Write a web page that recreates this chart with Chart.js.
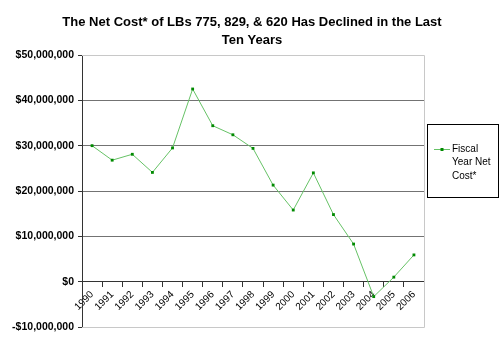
<!DOCTYPE html>
<html>
<head>
<meta charset="utf-8">
<script src="https://cdn.jsdelivr.net/npm/chart.js@4.4.1/dist/chart.umd.min.js"></script>
<style>
  html, body { margin: 0; padding: 0; background: #fff; }
  #wrap { width: 504px; height: 345px; }
</style>
</head>
<body>
<div id="wrap"><canvas id="costChart" width="504" height="345"></canvas></div>
<script>
// Data
const years = ['1990', '1991', '1992', '1993', '1994', '1995', '1996', '1997', '1998',
               '1999', '2000', '2001', '2002', '2003', '2004', '2005', '2006'];
const netCost = [30.0, 26.8, 28.1, 24.1, 29.5, 42.5, 34.4, 32.4, 29.4,
                 21.3, 15.8, 24.0, 14.8, 8.3, -3.3, 1.0, 5.9].map(v => v * 1e6);
const seriesLabel = 'Fiscal Year Net Cost*';
const legendLines = ['Fiscal', 'Year Net', 'Cost*'];
const titleLines = ['The Net Cost* of LBs 775, 829, & 620 Has Declined in the Last', 'Ten Years'];

const FONT = 'Arial, "Liberation Sans", sans-serif';

function money(v) {
    const s = '$' + Math.abs(v).toLocaleString('en-US');
    return v < 0 ? '-' + s : s;
}

// plot border (top, right, bottom) and the boxed legend on the right
const frameAndLegend = {
    id: 'frameAndLegend',
    beforeDatasetsDraw(chart) {
        const {ctx, chartArea: a} = chart;
        ctx.save();
        ctx.strokeStyle = '#c8c8c8';
        ctx.lineWidth = 1;
        ctx.beginPath();
        ctx.moveTo(a.left, a.top + 0.5);
        ctx.lineTo(a.right + 0.5, a.top + 0.5);
        ctx.lineTo(a.right + 0.5, a.bottom + 0.5);
        ctx.lineTo(a.left, a.bottom + 0.5);
        ctx.stroke();
        ctx.restore();
    },
    afterDraw(chart) {
        const {ctx} = chart;
        const ds = chart.data.datasets[0];
        ctx.save();
        ctx.strokeStyle = '#000';
        ctx.lineWidth = 1;
        ctx.strokeRect(427.5, 124.5, 71, 73);
        ctx.strokeStyle = ds.borderColor;
        ctx.beginPath();
        ctx.moveTo(434, 149.5);
        ctx.lineTo(450, 149.5);
        ctx.stroke();
        ctx.fillStyle = ds.pointBackgroundColor;
        ctx.fillRect(440.5, 148, 3, 3);
        ctx.fillStyle = '#000';
        ctx.font = '10px ' + FONT;
        ctx.textBaseline = 'middle';
        legendLines.forEach((t, i) => ctx.fillText(t, 452, 149 + i * 13.5));
        ctx.restore();
    }
};

new Chart(document.getElementById('costChart'), {
    type: 'line',
    data: {
        labels: years,
        datasets: [{
            label: seriesLabel,
            data: netCost,
            borderColor: '#66c266',
            borderWidth: 1,
            tension: 0,
            pointStyle: 'rect',
            pointRadius: 2,
            pointBackgroundColor: '#008a00',
            pointBorderColor: '#008a00',
            pointBorderWidth: 0
        }]
    },
    options: {
        responsive: false,
        animation: false,
        layout: { padding: { left: 0, right: 0, top: 0, bottom: 18 } },
        plugins: {
            legend: { display: false },
            tooltip: { enabled: false },
            title: {
                display: true,
                text: titleLines,
                color: '#000',
                font: { family: FONT, size: 13, weight: 'bold', lineHeight: 1.4 },
                padding: { top: 13, bottom: 5.6 }
            }
        },
        scales: {
            x: {
                type: 'category',
                position: { y: 0 },
                offset: true,
                grid: {
                    offset: true,
                    drawOnChartArea: false,
                    drawTicks: true,
                    tickLength: 5,
                    tickColor: '#333'
                },
                border: { color: '#333', width: 1 },
                ticks: {
                    autoSkip: false,
                    maxRotation: 45,
                    minRotation: 45,
                    padding: 2,
                    color: '#000',
                    font: { family: FONT, size: 10 }
                }
            },
            y: {
                min: -10000000,
                max: 50000000,
                afterFit(scale) { scale.width = 82; },
                grid: {
                    color: ctx => (ctx.tick && (ctx.tick.value === 50000000 || ctx.tick.value === -10000000)) ? '#c8c8c8' : '#737373',
                    tickLength: 4,
                    tickColor: '#333'
                },
                border: { color: '#333', width: 1 },
                ticks: {
                    stepSize: 10000000,
                    padding: 4,
                    color: '#000',
                    font: { family: FONT, size: 10.5, weight: 'bold' },
                    callback: v => money(v)
                }
            },
            // empty right-hand axis that only keeps room for the legend
            legendSpace: {
                type: 'linear',
                position: 'right',
                min: -10000000,
                max: 50000000,
                afterFit(scale) { scale.width = 80; },
                grid: { display: false },
                border: { display: false },
                ticks: { display: false }
            }
        }
    },
    plugins: [frameAndLegend]
});
</script>
</body>
</html>
